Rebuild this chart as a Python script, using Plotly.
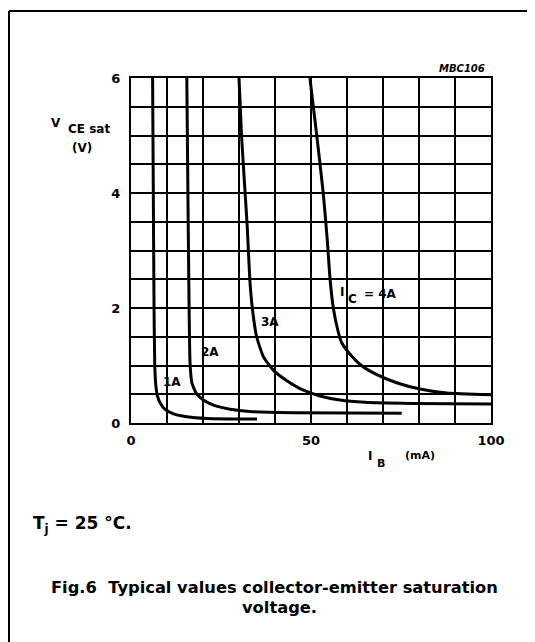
import plotly.graph_objects as go

# I_B (mA) vs V_CE sat (V) for each collector current
ib_1a = [6.0, 6.2, 6.4, 6.6, 6.9, 7.4, 8.2, 9.4, 11.8, 15.5, 21.0, 35.0]
v_1a = [6.0, 4.0, 2.0, 1.0, 0.65, 0.46, 0.34, 0.24, 0.16, 0.11, 0.08, 0.07]

ib_2a = [15.5, 15.9, 16.4, 16.9, 18.1, 20.1, 22.9, 27.5, 33.0, 45.0, 75.2]
v_2a = [6.0, 3.4, 1.05, 0.70, 0.52, 0.40, 0.31, 0.24, 0.20, 0.18, 0.17]

ib_3a = [30.0, 30.7, 31.7, 32.3, 33.0, 33.7, 34.9, 36.8, 39.5, 43.2, 47.9, 52.5, 58.0, 65.0, 78.0, 100.0]
v_3a = [6.0, 5.0, 4.0, 3.4, 2.5, 2.0, 1.5, 1.15, 0.92, 0.74, 0.57, 0.47, 0.40, 0.36, 0.34, 0.33]

ib_4a = [49.7, 51.6, 53.4, 54.5, 55.3, 56.2, 57.5, 58.5, 60.8, 64.0, 68.0, 73.8, 80.3, 87.7, 100.0]
v_4a = [6.0, 5.0, 4.0, 3.2, 2.5, 2.0, 1.6, 1.4, 1.2, 1.0, 0.85, 0.70, 0.59, 0.52, 0.49]

curve_labels = ["1A", "2A", "3A"]
label_x = [11.4, 21.9, 38.6]
label_y = [0.71, 1.23, 1.76]

x_ticks = [0, 50, 100]
y_ticks = [0, 2, 4, 6]

FONT = "DejaVu Sans"
BODY_OFFSET = 8  # page body margin

# plot area on screen: x 131..491, y 78..423
def px(x):
    return (x - 131) / 360.0

def py(y):
    return (423 - y) / 345.0

fig = go.Figure()
for xs, ys in [(ib_1a, v_1a), (ib_2a, v_2a), (ib_3a, v_3a), (ib_4a, v_4a)]:
    fig.add_trace(go.Scatter(x=xs, y=ys, mode="lines",
                             line=dict(color="black", width=3, shape="spline", smoothing=0.5),
                             showlegend=False, hoverinfo="skip"))

for t, x, y in zip(curve_labels, label_x, label_y):
    fig.add_annotation(x=x, y=y, text="<b>" + t + "</b>", showarrow=False,
                       xanchor="center", yanchor="middle",
                       font=dict(family=FONT, size=12, color="black"))

def txt(x, y, s, size, anchor="center"):
    fig.add_annotation(xref="paper", yref="paper", x=px(x), y=py(y),
                       xanchor=anchor, yanchor="middle",
                       text=s, showarrow=False,
                       font=dict(family=FONT, size=size, color="black"))

# I_C = 4A label
txt(342, 292, "<b>I</b>", 12)
txt(352, 299, "<b>C</b>", 12)
txt(380, 294, "<b>= 4A</b>", 12)

axis_common = dict(showline=True, mirror=True, linecolor="black", linewidth=2,
                   gridcolor="black", gridwidth=1.5, zeroline=False, ticks="",
                   tickfont=dict(family=FONT, size=13, color="black"))

fig.update_xaxes(range=[0, 100], tickvals=x_ticks, ticktext=["<b>%d</b>" % v for v in x_ticks],
                 showgrid=True, minor=dict(dtick=10, showgrid=True, gridcolor="black", gridwidth=1.5),
                 ticklabelstandoff=4, **axis_common)
fig.update_yaxes(range=[0, 6], tickvals=y_ticks, ticktext=["<b>%d</b>" % v for v in y_ticks],
                 showgrid=True, minor=dict(dtick=0.5, showgrid=True, gridcolor="black", gridwidth=1.5),
                 ticklabelstandoff=6, **axis_common)

# axis titles
txt(56, 123, "<b>V</b>", 12)
txt(89, 129, "<b>CE sat</b>", 12)
txt(82, 148, "<b>(V)</b>", 12)
txt(370, 456, "<b>I</b>", 12)
txt(381, 463, "<b>B</b>", 11)
txt(420, 456, "<b>(mA)</b>", 11)

txt(487, 68, "<b><i>MBC106</i></b>", 10, anchor="right")
txt(31, 524, "<b>T<sub>j</sub> = 25 °C.</b>", 17, anchor="left")
txt(274, 587, "<b>Fig.6  Typical values collector-emitter saturation</b>", 16.3)
txt(279, 607, "<b>voltage.</b>", 16.3)

# frame: top and left lines
fig.add_shape(type="line", xref="paper", yref="paper", x0=px(9), x1=px(540), y0=py(11), y1=py(11),
              line=dict(color="black", width=2))
fig.add_shape(type="line", xref="paper", yref="paper", x0=px(9), x1=px(9), y0=py(11), y1=py(650),
              line=dict(color="black", width=2))

fig.update_layout(width=535, height=642,
                  margin=dict(l=131 - BODY_OFFSET, r=44 + BODY_OFFSET,
                              t=78 - BODY_OFFSET, b=219 + BODY_OFFSET),
                  paper_bgcolor="white", plot_bgcolor="white")

fig.write_html("out.html")
